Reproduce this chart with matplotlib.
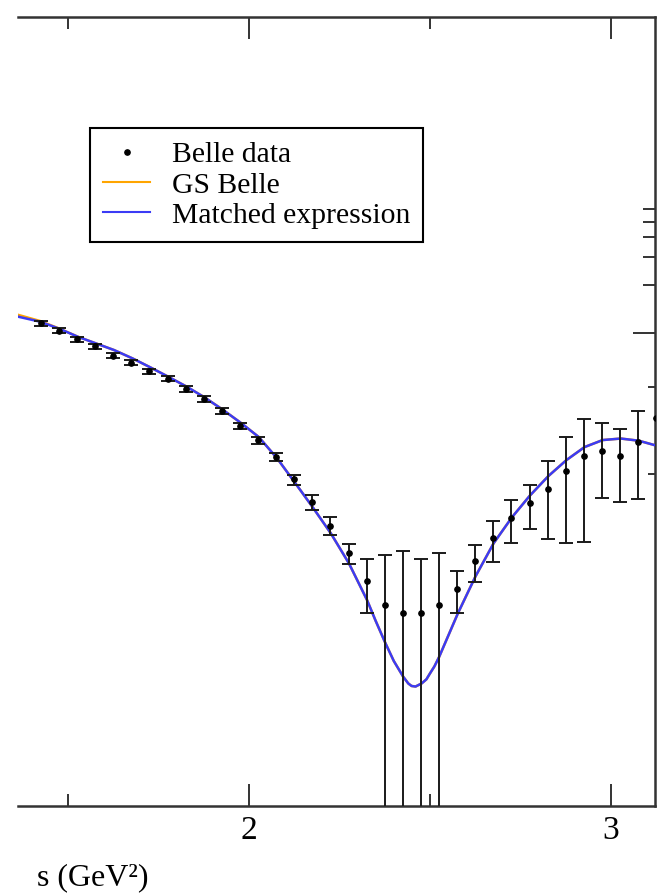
import matplotlib
matplotlib.use("Agg")
import matplotlib.pyplot as plt
from matplotlib.lines import Line2D
from matplotlib.ticker import FixedLocator, NullFormatter, NullLocator

plt.rcParams["font.family"] = ["Liberation Serif", "DejaVu Serif"]

# Belle |F|^2 points (bin centres in s, GeV^2)
s_data = [1.425, 1.475, 1.525, 1.575, 1.625, 1.675, 1.725, 1.775, 1.825,
          1.875, 1.925, 1.975, 2.025, 2.075, 2.125, 2.175, 2.225, 2.275,
          2.325, 2.375, 2.425, 2.475, 2.525, 2.575, 2.625, 2.675, 2.725,
          2.775, 2.825, 2.875, 2.925, 2.975, 3.025, 3.075, 3.125]
ff_data = [1.151, 1.034, 0.913, 0.828, 0.720, 0.650, 0.577, 0.516, 0.446,
           0.386, 0.3245, 0.260, 0.2123, 0.1653, 0.1202, 0.0863, 0.0615,
           0.0412, 0.02767, 0.01947, 0.01745, 0.01745, 0.01947, 0.02454,
           0.0368, 0.0511, 0.0683, 0.0849, 0.1040, 0.1355, 0.1684, 0.1818,
           0.1684, 0.207, 0.291]
# last bin sits on the frame, its bar is not shown
ff_err = [0.042, 0.037, 0.033, 0.030, 0.026, 0.023, 0.021, 0.019, 0.019,
          0.017, 0.014, 0.011, 0.011, 0.0096, 0.0087, 0.0096, 0.0081,
          0.0057, 0.0102, 0.0207, 0.0250, 0.0204, 0.0219, 0.0072, 0.0098,
          0.015, 0.0205, 0.026, 0.0535, 0.088, 0.12, 0.09, 0.082, 0.116,
          float("nan")]

# model curves
s_curve = [1.363, 1.423, 1.478, 1.527, 1.577, 1.627, 1.678, 1.727, 1.777,
           1.828, 1.877, 1.926, 1.977, 2.027, 2.077, 2.125, 2.175, 2.226,
           2.276, 2.326, 2.350, 2.377, 2.400, 2.426, 2.440, 2.449, 2.460,
           2.477, 2.490, 2.500, 2.512, 2.525, 2.550, 2.577, 2.626, 2.676,
           2.727, 2.776, 2.827, 2.877, 2.927, 2.977, 3.027, 3.077, 3.126]
matched = [1.266, 1.178, 1.060, 0.948, 0.861, 0.782, 0.693, 0.609, 0.531,
           0.4597, 0.394, 0.3313, 0.2728, 0.2218, 0.1636, 0.1161, 0.0808,
           0.0550, 0.0356, 0.02093, 0.01545, 0.01118, 0.00865, 0.00689,
           0.00625, 0.00603, 0.00598, 0.00626, 0.00664, 0.00724, 0.00800,
           0.00917, 0.01243, 0.01727, 0.02962, 0.04777, 0.0697, 0.0951,
           0.1261, 0.1590, 0.1919, 0.2123, 0.2170, 0.2102, 0.1956]
gs_belle = [1.300, 1.190, 1.062, 0.949, 0.861, 0.782, 0.693, 0.609, 0.531,
            0.4597, 0.394, 0.3313, 0.2728, 0.2218, 0.1636, 0.1161, 0.0808,
            0.0550, 0.0356, 0.02093, 0.01545, 0.01118, 0.00865, 0.00689,
            0.00625, 0.00603, 0.00598, 0.00626, 0.00664, 0.00724, 0.00800,
            0.00917, 0.01243, 0.01727, 0.02962, 0.04777, 0.0697, 0.0951,
            0.1261, 0.1590, 0.1919, 0.2123, 0.2170, 0.2102, 0.1956]

fig = plt.figure(figsize=(6.58, 8.93), dpi=100)
ax = fig.add_axes([0.0274, 0.0974, 0.9681, 0.8835])
ax.set_yscale("log")

ax.plot(s_curve, gs_belle, color="#ffa500", lw=1.8, zorder=2)
ax.plot(s_curve, matched, color="#3b3bf5", lw=1.8, zorder=3)
ax.errorbar(s_data, ff_data, yerr=ff_err, fmt="o", ms=3.8, color="k",
            ecolor="#1a1a1a", elinewidth=1.4, capsize=4.8, capthick=1.4,
            zorder=4)

ax.set_xlim(1.362, 3.1215)
ax.set_ylim(0.00106, 97.1)

# the two short ticks lower down the right edge
tw = ax.twinx()
tw.set_yscale("log")
tw.set_ylim(ax.get_ylim())
tw.yaxis.set_major_locator(FixedLocator([0.13, 0.46]))
tw.yaxis.set_minor_locator(NullLocator())
tw.yaxis.set_major_formatter(NullFormatter())
tw.tick_params(axis="y", direction="in", length=5, width=1.4, color="#333333")
for sp in tw.spines.values():
    sp.set_visible(False)

ax.spines["left"].set_visible(False)
for side in ("top", "right", "bottom"):
    ax.spines[side].set_linewidth(1.8)
    ax.spines[side].set_color("#333333")

ax.xaxis.set_major_locator(FixedLocator([2, 3]))
ax.xaxis.set_minor_locator(FixedLocator([1.5, 2.5]))
ax.tick_params(axis="x", which="both", direction="in", top=True, bottom=True,
               width=1.4, color="#333333", labelsize=24, pad=7)
ax.tick_params(axis="x", which="major", length=16)
ax.tick_params(axis="x", which="minor", length=8.5)

ax.yaxis.set_major_locator(FixedLocator([1]))
ax.yaxis.set_minor_locator(FixedLocator([2, 3, 4, 5, 6]))
ax.yaxis.set_major_formatter(NullFormatter())
ax.yaxis.set_minor_formatter(NullFormatter())
ax.tick_params(axis="y", which="both", direction="in", left=False, right=True,
               labelleft=False, labelright=False, width=1.4, color="#333333")
ax.tick_params(axis="y", which="major", length=16)
ax.tick_params(axis="y", which="minor", length=8.5)

handles = [
    Line2D([], [], ls="none", marker="o", ms=3.8, color="k"),
    Line2D([], [], color="#ffa500", lw=1.5),
    Line2D([], [], color="#3b3bf5", lw=1.5),
]
leg = tw.legend(handles, ["Belle data", "GS Belle", "Matched expression"],
                loc="upper left", bbox_to_anchor=(0.113, 0.859),
                fontsize=21.3, frameon=True, fancybox=False, edgecolor="k",
                framealpha=1, handlelength=1.57, handletextpad=0.74,
                labelspacing=0.12, borderpad=0.45, borderaxespad=0)
leg.get_frame().set_linewidth(1.5)

fig.text(37 / 658, 1 - 878 / 893, "s (GeV²)", fontsize=23,
         ha="left", va="center")

fig.savefig("out.png", dpi=100)
